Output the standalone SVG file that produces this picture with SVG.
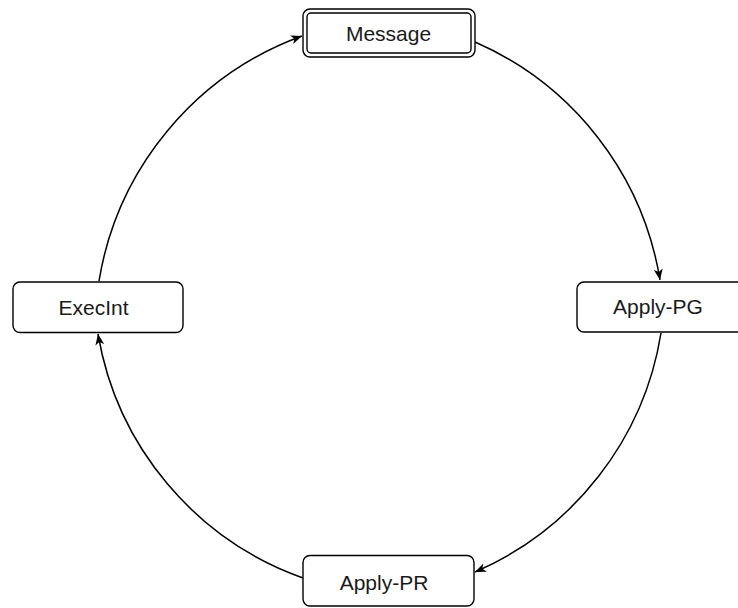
<svg xmlns="http://www.w3.org/2000/svg" width="738" height="608" viewBox="0 0 738 608">
<style>
.box{fill:#fff;stroke:#000;stroke-width:1.4}
.lbl{font-family:"Liberation Sans",Arial,sans-serif;font-size:21px;fill:#1a1a1a;text-anchor:middle}
.edge{fill:none;stroke:#000;stroke-width:1.5;marker-end:url(#arr)}
</style>
<defs>
<marker id="arr" viewBox="0 0 11 9" refX="11" refY="4.5" markerWidth="11" markerHeight="9" markerUnits="userSpaceOnUse" orient="auto">
<path d="M0,0 L11,4.5 L0,9 L3,4.5 Z" fill="#000"/>
</marker>
</defs>
<rect width="738" height="608" fill="#fff"/>
<g id="connectors">
<path class="edge" d="M475,42 A315,315 0 0 1 660,280"/>
<path class="edge" d="M661,333 A315,315 0 0 1 475,572"/>
<path class="edge" d="M303,578 A315,315 0 0 1 98,334"/>
<path class="edge" d="M99,281 A315,315 0 0 1 302,36"/>
</g>
<g id="node-message">
<rect class="box" x="303" y="9" width="172" height="48" rx="7"/>
<rect class="box" x="307" y="13" width="164" height="40" rx="4"/>
<text class="lbl" x="388.5" y="41">Message</text>
</g>
<g id="node-applypg">
<rect class="box" x="577" y="282" width="171" height="50" rx="7"/>
<text class="lbl" x="658" y="314">Apply-PG</text>
</g>
<g id="node-execint">
<rect class="box" x="13" y="282" width="170" height="50.5" rx="7"/>
<text class="lbl" x="93.5" y="315">ExecInt</text>
</g>
<g id="node-applypr">
<rect class="box" x="303" y="555.5" width="171" height="50.5" rx="7"/>
<text class="lbl" x="384" y="589.5">Apply-PR</text>
</g>
</svg>
